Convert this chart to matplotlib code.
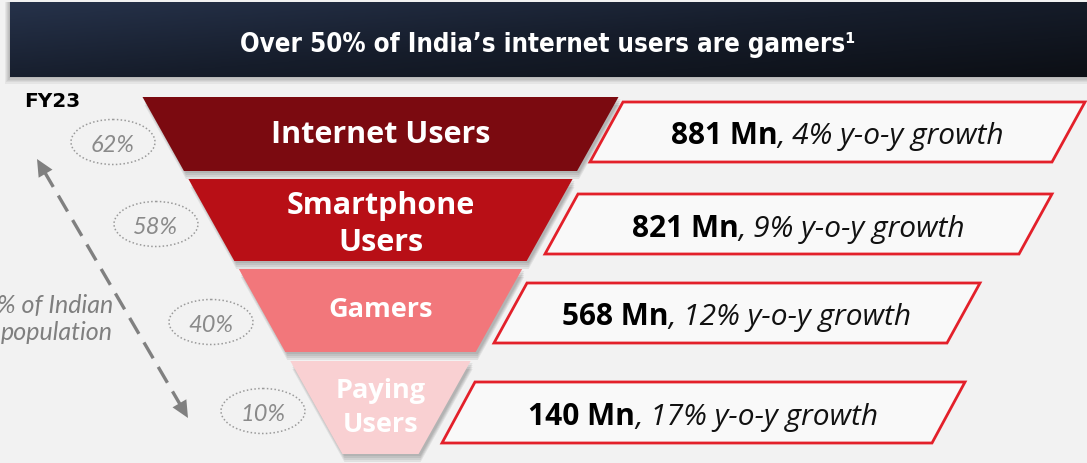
import matplotlib.pyplot as plt
from matplotlib.patches import Polygon, Ellipse
from matplotlib.colors import LinearSegmentedColormap
import numpy as np

# données
titre = "Over 50% of India\u2019s internet users are gamers\u00b9"
annee = "FY23"
etages = [["Internet Users"], ["Smartphone", "Users"], ["Gamers"], ["Paying", "Users"]]
millions = [881, 821, 568, 140]
croissance = [4, 9, 12, 17]
part_population = [62, 58, 40, 10]
legende_gauche = ["% of Indian", "population"]

# mise en page (en pixels, origine en haut a gauche)
W, H = 1087, 464
couleurs = ['#7b0a10', '#b80f16', '#f2777b', '#f9d0d2']
tranches = [(98, 172), (180, 262), (270, 353), (362, 455)]
lignes_y = [[143], [214, 251], [317], [398, 432]]
tailles = [22, 22, 19.5, 19.5]
boites = [(103, 163, 623, 1085), (195, 255, 578, 1052), (284, 344, 527, 980), (383, 444, 475, 965)]
base_boites = [144, 237, 325, 425]
biais = 33
ellipses = [(113, 143), (156, 225), (211, 323), (263, 412)]
centre, demi, pente, y0 = 380.5, 238, 0.56, 98

police = ['Open Sans', 'DejaVu Sans']
police2 = ['Lato', 'DejaVu Sans']
gris = '#8a8a8a'

fig = plt.figure(figsize=(W / 100, H / 100), dpi=100)
fig.patch.set_facecolor('#f2f2f2')
ax = fig.add_axes([0, 0, 1, 1])
ax.set_xlim(0, W)
ax.set_ylim(H, 0)
ax.axis('off')

# bandeau du titre
for k in range(6):
    ax.add_patch(Polygon([(10 - k, 3), (W, 3), (W, 78 + k * 1.3), (10 - k, 78 + k * 1.3)],
                         closed=True, fc='#000000', ec='none', alpha=0.05, zorder=1))
xx, yy = np.meshgrid(np.linspace(0, 1, 200), np.linspace(0, 1, 40))
grad = 0.55 * xx + 0.45 * yy
cmap = LinearSegmentedColormap.from_list('bandeau', ['#26324a', '#161d2b', '#0c0f15'])
ax.imshow(grad, cmap=cmap, extent=(10, W, 78, 3), aspect='auto', zorder=2)
ax.text(548, 52, titre, color='white', fontsize=18.5, fontweight='bold',
        family='DejaVu Sans', fontstretch='condensed', ha='center', va='baseline', zorder=3)

ax.text(24, 107, annee, fontsize=14.5, fontweight='bold', family='DejaVu Sans',
        ha='left', va='baseline', color='black')


def bord(y):
    h = demi - pente * (y - y0)
    return centre - h, centre + h


# entonnoir
for i, (haut, bas) in enumerate(tranches):
    g1, d1 = bord(haut)
    g2, d2 = bord(bas)
    pts = [(g1, haut), (d1, haut), (d2, bas), (g2, bas)]
    for k in range(4):
        dec = 2 + k * 2
        ax.add_patch(Polygon([(x + 2, y + dec) for x, y in pts], closed=True,
                             fc='#000000', ec='none', alpha=0.07, zorder=4))
    ax.add_patch(Polygon(pts, closed=True, fc=couleurs[i], ec='none', zorder=5))
    for ligne, yb in zip(etages[i], lignes_y[i]):
        ax.text(centre, yb, ligne, color='white', fontsize=tailles[i], fontweight='bold',
                family=police, ha='center', va='baseline', zorder=6)

# boites de droite
fig.canvas.draw()
rend = fig.canvas.get_renderer()
for i, (haut, bas, xg, xd) in enumerate(boites):
    pts = [(xg, haut), (xd, haut), (xd - biais, bas), (xg - biais, bas)]
    ax.add_patch(Polygon(pts, closed=True, fc='#f9f9f9', ec='#e3202a', lw=2, zorder=5))
    t1 = ax.text(0, base_boites[i], f"{millions[i]} Mn", fontsize=21.5, fontweight='bold',
                 family=police, color='black', ha='left', va='baseline', zorder=6)
    t2 = ax.text(0, base_boites[i], f", {croissance[i]}% y-o-y growth", fontsize=21.5,
                 style='italic', family=police, color='#111111', ha='left', va='baseline', zorder=6)
    l1 = t1.get_window_extent(rend).width
    l2 = t2.get_window_extent(rend).width
    xc = (xg + xd - biais) / 2
    x0 = xc - (l1 + l2) / 2
    t1.set_x(x0)
    t2.set_x(x0 + l1)

# pourcentages de la population
for (xe, ye), p in zip(ellipses, part_population):
    ax.add_patch(Ellipse((xe, ye), 84, 45, fc='none', ec='#9a9a9a', lw=1.1,
                         linestyle=(0, (1, 1.5)), zorder=3))
    ax.text(xe, ye + 9, f"{p}%", fontsize=17, style='italic', family=police2,
            color=gris, ha='center', va='baseline', zorder=3)

# fleche double en tirets
xa, ya, xb, yb = 37, 160, 188, 419
ux, uy = (xb - xa), (yb - ya)
n = np.hypot(ux, uy)
ux, uy = ux / n, uy / n
ax.plot([xa + ux * 14, xb - ux * 14], [ya + uy * 14, yb - uy * 14], color='#808080',
        lw=2.4, linestyle=(0, (5.5, 3)), solid_capstyle='butt', zorder=3)
for (xt, yt, s) in [(xa, ya, 1), (xb, yb, -1)]:
    bx, by = xt + s * ux * 17, yt + s * uy * 17
    px, py = -uy * 8, ux * 8
    ax.add_patch(Polygon([(xt, yt), (bx + px, by + py), (bx - px, by - py)], closed=True,
                         fc='#808080', ec='none', zorder=3))

for ligne, yb_ in zip(legende_gauche, [313, 340]):
    ax.text(113, yb_, ligne, fontsize=18, style='italic', family=police2, color='#7f7f7f',
            ha='right', va='baseline', zorder=3)

fig.savefig('out.png', dpi=100, facecolor=fig.get_facecolor())
